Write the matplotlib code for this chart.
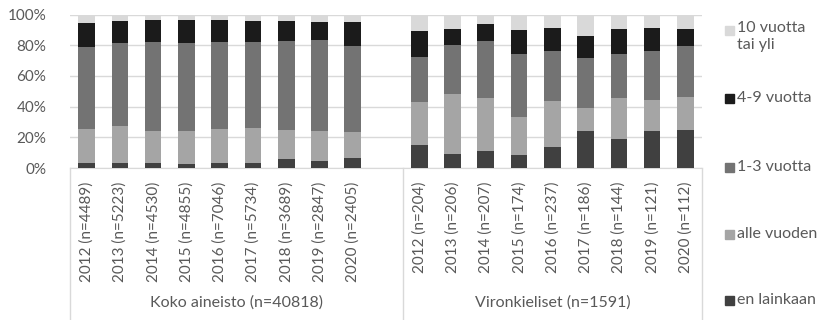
import numpy as np
import matplotlib
matplotlib.use('Agg')
import matplotlib.pyplot as plt
import matplotlib.transforms as mtransforms
from matplotlib.patches import Rectangle

plt.rcParams['font.family'] = ['Lato', 'DejaVu Sans']

years = ['2012', '2013', '2014', '2015', '2016', '2017', '2018', '2019', '2020']
n_all = [4489, 5223, 4530, 4855, 7046, 5734, 3689, 2847, 2405]
n_est = [204, 206, 207, 174, 237, 186, 144, 121, 112]
groups = ['Koko aineisto (n=40818)', 'Vironkieliset (n=1591)']

# shares in percent, bottom to top
all_none = [3.3, 3.3, 3.3, 2.6, 3.3, 3.3, 5.7, 4.6, 6.3]
all_lt1 = [21.9, 23.9, 20.6, 21.3, 21.9, 22.8, 18.9, 19.3, 17.0]
all_1_3 = [53.5, 54.1, 58.1, 57.8, 57.0, 56.1, 58.2, 59.6, 56.3]
all_4_9 = [15.9, 14.4, 14.5, 14.4, 14.3, 13.7, 13.1, 11.7, 15.2]
all_10 = [5.4, 4.3, 3.5, 3.9, 3.5, 4.1, 4.1, 4.8, 5.2]

est_none = [15.0, 9.3, 11.1, 8.5, 13.7, 24.1, 18.9, 24.3, 24.8]
est_lt1 = [28.0, 39.0, 34.6, 24.8, 30.0, 15.0, 27.0, 19.8, 21.5]
est_1_3 = [29.2, 31.9, 37.1, 41.0, 32.6, 32.4, 28.4, 32.0, 33.3]
est_4_9 = [16.9, 10.5, 10.9, 15.9, 14.6, 14.8, 16.4, 15.2, 11.1]
est_10 = [10.9, 9.3, 6.3, 9.8, 9.1, 13.7, 9.3, 8.7, 9.3]

series = ['en lainkaan', 'alle vuoden', '1-3 vuotta', '4-9 vuotta', '10 vuotta tai yli']
colors = ['#404040', '#a5a5a5', '#737373', '#1b1b1b', '#d9d9d9']

data = np.array([all_none + [0] + est_none,
                 all_lt1 + [0] + est_lt1,
                 all_1_3 + [0] + est_1_3,
                 all_4_9 + [0] + est_4_9,
                 all_10 + [0] + est_10])
labels = [f'{y} (n={n})' for y, n in zip(years, n_all)] + [''] + \
         [f'{y} (n={n})' for y, n in zip(years, n_est)]
x = np.arange(len(labels))

fig = plt.figure(figsize=(8.22, 3.2), dpi=100)
ax = fig.add_axes([70 / 822, 152 / 320, 632 / 822, 153.5 / 320])

bottom = np.zeros(len(x))
for row, name, c in zip(data, series, colors):
    ax.bar(x, row, 0.5, bottom=bottom, color=c, label=name, zorder=3)
    bottom += row

ax.set_xlim(-0.5, len(x) - 0.5)
ax.set_ylim(0, 100)
ax.set_yticks(range(0, 101, 20))
ax.set_yticklabels([f'{v}%' for v in range(0, 101, 20)])
ax.yaxis.grid(True, color='#d9d9d9', lw=1, zorder=0)
for s in ['left', 'right', 'top']:
    ax.spines[s].set_visible(False)
ax.spines['bottom'].set_color('#d9d9d9')
ax.tick_params(axis='y', length=0, pad=17, labelsize=11, labelcolor='#595959')
ax.set_xticks(x)
ax.set_xticklabels(labels, rotation=90, va='top')
ax.tick_params(axis='x', length=0, pad=10, labelsize=11, labelcolor='#595959')

# group separators and group names below the tick labels
trans = mtransforms.blended_transform_factory(ax.transData, ax.transAxes)
for xv in [-0.5, 9.5, 18.5]:
    ax.plot([xv, xv], [0, -0.99], color='#d9d9d9', lw=1, transform=trans, clip_on=False)
ax.text(4.5, -0.875, groups[0], transform=trans, ha='center', va='center',
        fontsize=11.5, color='#595959')
ax.text(14, -0.875, groups[1], transform=trans, ha='center', va='center',
        fontsize=11.5, color='#595959')

# legend, top entry first
leg_y = [30, 98, 167, 234, 300]
leg_txt = ['10 vuotta\ntai yli', '4-9 vuotta', '1-3 vuotta', 'alle vuoden', 'en lainkaan']
leg_col = colors[::-1]
for yy, t, c in zip(leg_y, leg_txt, leg_col):
    fig.patches.append(Rectangle((725 / 822, (320 - yy - 4.5) / 320), 9 / 822, 9 / 320,
                                 color=c, transform=fig.transFigure))
    va = 'top' if '\n' in t else 'center'
    ty = (320 - yy + 9) / 320 if '\n' in t else (320 - yy) / 320
    fig.text(737 / 822, ty, t, ha='left', va=va, fontsize=11.5, color='#595959',
             linespacing=1.3)

fig.savefig('out.png', dpi=100)
